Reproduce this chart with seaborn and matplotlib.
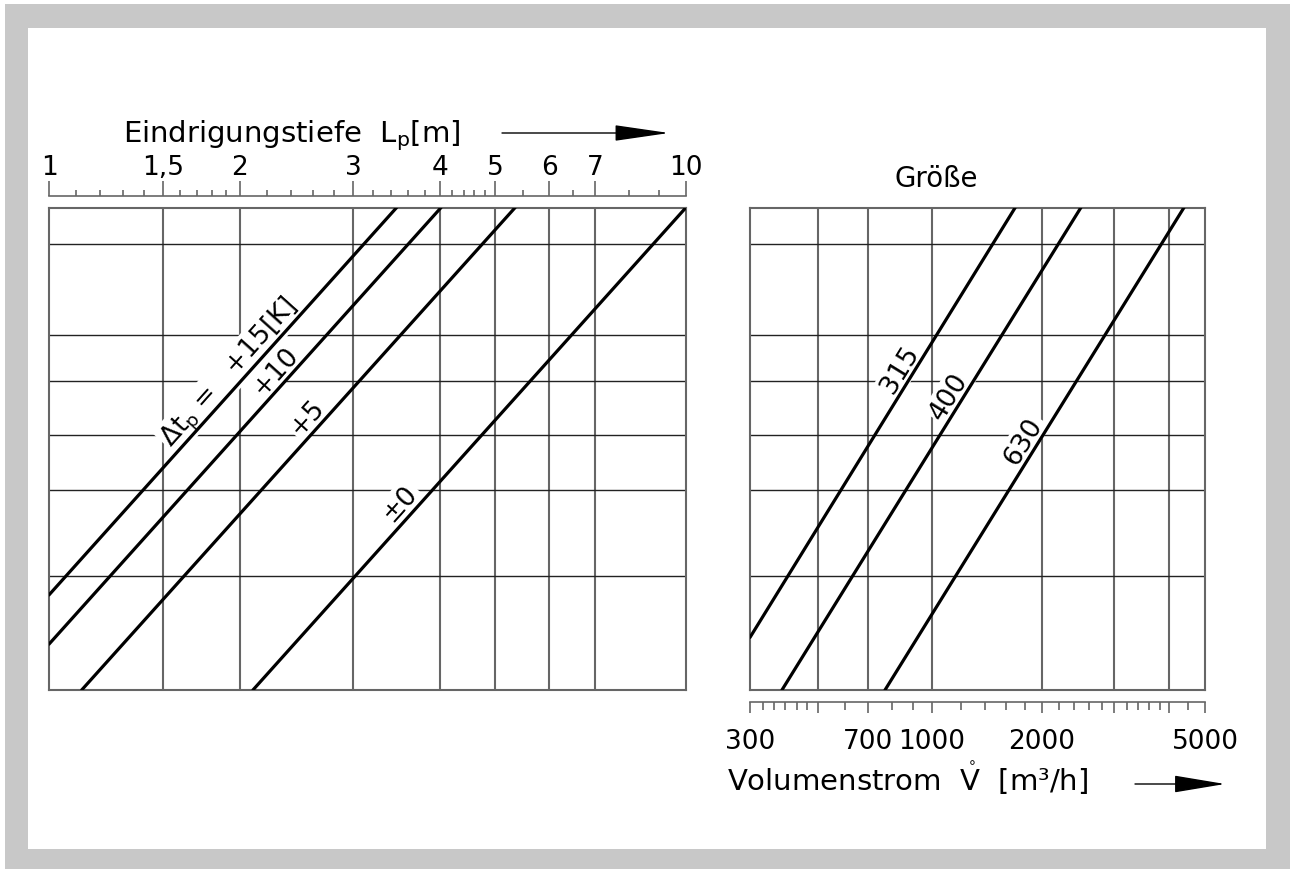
import matplotlib.pyplot as plt
import matplotlib.ticker as mticker
from matplotlib.patches import Rectangle, FancyArrowPatch
import pandas as pd
import numpy as np
import seaborn as sns

##### data: left diagram (Eindringtiefe)
lp_major = [1, 1.5, 2, 3, 4, 5, 6, 7, 10]
lp_major_labels = ['1', '1,5', '2', '3', '4', '5', '6', '7', '10']
lp_minor = [1.1, 1.2, 1.3, 1.4, 1.6, 1.7, 1.8, 1.9, 2.2, 2.4, 2.6, 2.8,
            3.2, 3.4, 3.6, 3.8, 4.2, 4.4, 4.6, 4.8, 5.5, 6.5, 8, 9]
lp_grid = [1.5, 2, 3, 4, 5, 6, 7]

# unlabeled y axis (0..100), horizontal grid lines
y_grid = [23.6, 41.5, 52.9, 64.1, 73.6, 92.5]

dt_names = ['+15', '+10', '+5', '±0']
dt_x0 = [1.0, 1.0, 1.123, 2.095]
dt_y0 = [19.7, 9.5, 0, 0]
dt_x1 = [3.464, 4.017, 5.35, 10.0]
dt_y1 = [100, 100, 100, 100]
dt_text = ['Δt$_p$ =   +15[K]', '+10', '+5', '±0']
dt_text_x = [1.927, 2.273, 2.546, 3.504]
dt_text_y = [65.8, 66.2, 56.5, 38.8]

##### data: right diagram (Volumenstrom)
v_major = [300, 500, 700, 1000, 2000, 3000, 4000, 5000]
v_major_labels = ['300', '', '700', '1000', '2000', '', '', '5000']
v_minor = [330, 360, 390, 425, 460, 600, 800, 900, 1200, 1400, 1600, 1800,
           2200, 2400, 2600, 2800, 3200, 3400, 3600, 3800, 4500]
v_grid = [500, 700, 1000, 2000, 3000, 4000]

size_names = ['315', '400', '630']
size_x0 = [300, 381, 769]
size_y0 = [10.9, 0, 0]
size_x1 = [1693, 2490, 4385]
size_y1 = [100, 100, 100]
size_text_x = [840, 1115, 1781]
size_text_y = [66.5, 61.0, 51.7]

# the printed log rulers are hand drawn and not quite uniform:
# where the major ticks sit along the axis (fraction of the width)
lp_ruler = [0, 0.1794, 0.2998, 0.4777, 0.6139, 0.7002, 0.7855, 0.8571, 1]
v_ruler = [0, 0.1501, 0.2600, 0.3993, 0.6411, 0.8007, 0.9216, 1]

sns.set_theme(style='white')
plt.rcParams['font.family'] = ['DejaVu Sans']
plt.rcParams['mathtext.default'] = 'regular'

W, H = 1290, 870
fig = plt.figure(figsize=(W / 100, H / 100), dpi=100, facecolor='white')


def fx(px):
    return px / W


def fy(py):
    return 1 - py / H


def ruler_scale(ticks, pos):
    lt = np.log10(ticks)
    ext_t = np.r_[lt[0] - 1, lt, lt[-1] + 1]
    ext_p = np.r_[pos[0] - (pos[1] - pos[0]) / (lt[1] - lt[0]), pos,
                  pos[-1] + (pos[-1] - pos[-2]) / (lt[-1] - lt[-2])]

    def fwd(v):
        v = np.maximum(np.asarray(v, dtype=float), 1e-9)
        return np.interp(np.log10(v), ext_t, ext_p)

    def inv(p):
        return 10 ** np.interp(np.asarray(p, dtype=float), ext_p, ext_t)

    return fwd, inv


# grey frame
fig.add_artist(Rectangle((fx(5), 0), 1 - fx(5), fy(5), transform=fig.transFigure,
                         facecolor='#c8c8c8', edgecolor='none', zorder=-10))
fig.add_artist(Rectangle((fx(28), fy(850)), fx(1266) - fx(28), fy(29) - fy(850),
                         transform=fig.transFigure, facecolor='white',
                         edgecolor='none', zorder=-9))

GRAY = '#666666'

ax_l = fig.add_axes([fx(49), fy(691), fx(686) - fx(49), fy(208.5) - fy(691)])
ax_r = fig.add_axes([fx(750), fy(691), fx(1205) - fx(750), fy(208.5) - fy(691)])

df_l = pd.DataFrame({'L': dt_x0 + dt_x1, 'y': dt_y0 + dt_y1, 'curve': dt_names * 2})
df_r = pd.DataFrame({'V': size_x0 + size_x1, 'y': size_y0 + size_y1, 'curve': size_names * 2})

sns.lineplot(data=df_l, x='L', y='y', units='curve', estimator=None,
             color='black', linewidth=2.3, ax=ax_l, zorder=4)
sns.lineplot(data=df_r, x='V', y='y', units='curve', estimator=None,
             color='black', linewidth=2.3, ax=ax_r, zorder=4)


def setup(ax, xgrid, major, labels, minor, pos, side):
    funcs = ruler_scale(major, pos)
    xlim = (major[0], major[-1])
    ax.set_xscale('function', functions=funcs)
    ax.set_xlim(*xlim)
    ax.set_ylim(0, 100)
    rul = ax.twiny()
    rul.set_xscale('function', functions=funcs)
    rul.set_xlim(*xlim)

    ax.xaxis.set_major_locator(mticker.FixedLocator(xgrid))
    ax.xaxis.set_minor_locator(mticker.NullLocator())
    ax.yaxis.set_major_locator(mticker.FixedLocator(y_grid))
    ax.tick_params(which='both', length=0, bottom=False, top=False, left=False,
                   right=False, labelbottom=False, labeltop=False,
                   labelleft=False, labelright=False)
    ax.set_axisbelow(True)
    ax.grid(True, axis='x', color=GRAY, linewidth=1.5)
    ax.grid(True, axis='y', color='#222222', linewidth=1.0)
    ax.set_xlabel('')
    ax.set_ylabel('')
    for s in ax.spines.values():
        s.set_visible(True)
        s.set_color(GRAY)
        s.set_linewidth(1.5)

    # separate ruler with the log ticks
    rul.xaxis.set_major_locator(mticker.FixedLocator(major))
    rul.xaxis.set_major_formatter(mticker.FixedFormatter(labels))
    rul.xaxis.set_minor_locator(mticker.FixedLocator(minor))
    rul.xaxis.set_minor_formatter(mticker.NullFormatter())
    for s in rul.spines.values():
        s.set_visible(False)
    rul.spines[side].set_visible(True)
    rul.spines[side].set_position(('outward', 8.4))
    rul.spines[side].set_color(GRAY)
    rul.spines[side].set_linewidth(1.2)
    top = side == 'top'
    if top:
        rul.xaxis.tick_top()
        rul.tick_params(axis='x', which='major', length=10.8, pad=0.5)
        rul.tick_params(axis='x', which='minor', length=4.3)
    else:
        rul.xaxis.tick_bottom()
        rul.tick_params(axis='x', which='major', length=8.1, pad=11)
        rul.tick_params(axis='x', which='minor', length=5.8)
    rul.tick_params(axis='x', which='both', direction='out', width=1.2,
                    color=GRAY, top=top, bottom=not top, labeltop=top,
                    labelbottom=not top, labelsize=19, labelcolor='black')
    return rul


rul_l = setup(ax_l, lp_grid, lp_major, lp_major_labels, lp_minor, lp_ruler, 'top')
rul_r = setup(ax_r, v_grid, v_major, v_major_labels, v_minor, v_ruler, 'bottom')


def put_label(ax, text, x, y, x0, y0, x1, y1):
    p0 = ax.transData.transform((x0, y0))
    p1 = ax.transData.transform((x1, y1))
    ang = np.degrees(np.arctan2(p1[1] - p0[1], p1[0] - p0[0]))
    ax.text(x, y, text, rotation=ang, rotation_mode='anchor', ha='center',
            va='center', fontsize=19, color='black', zorder=3,
            bbox=dict(facecolor='white', edgecolor='none', pad=1.5))


for i in range(len(dt_names)):
    put_label(ax_l, dt_text[i], dt_text_x[i], dt_text_y[i],
              dt_x0[i], dt_y0[i], dt_x1[i], dt_y1[i])
for i in range(len(size_names)):
    put_label(ax_r, size_names[i], size_text_x[i], size_text_y[i],
              size_x0[i], size_y0[i], size_x1[i], size_y1[i])

# titles and arrows
fig.text(fx(123), fy(142), 'Eindrigungstiefe  L$_p$[m]', ha='left', va='baseline',
         fontsize=21, color='black')
fig.text(fx(936), fy(187), 'Größe', ha='center', va='baseline', fontsize=20,
         color='black')
fig.text(fx(727), fy(791), 'Volumenstrom  $\\mathring{V}$  [m³/h]', ha='left',
         va='baseline', fontsize=21, color='black')


def arrow(x0, x1, y, hl, hw):
    fig.add_artist(FancyArrowPatch((fx(x0), fy(y)), (fx(x1), fy(y)),
                                   transform=fig.transFigure,
                                   arrowstyle=f'-|>,head_length={hl},head_width={hw}',
                                   mutation_scale=10, linewidth=1.0, color='black',
                                   shrinkA=0, shrinkB=0))


arrow(502, 669, 134, 3.45, 0.5)
arrow(1135, 1225, 785, 3.24, 0.54)

fig.savefig('out.png', dpi=100, facecolor=fig.get_facecolor())
